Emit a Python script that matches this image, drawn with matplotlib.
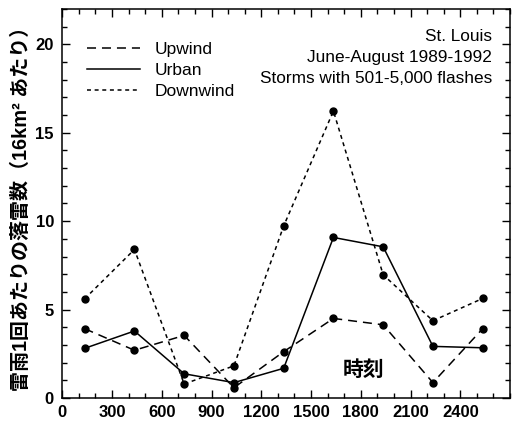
import matplotlib
matplotlib.use('Agg')
import matplotlib.pyplot as plt
from matplotlib.ticker import MultipleLocator

plt.rcParams['font.family'] = ['Liberation Sans', 'Noto Sans CJK JP', 'DejaVu Sans']

# data
hours = [135, 435, 735, 1035, 1335, 1635, 1935, 2235, 2535]
upwind = [3.92, 2.70, 3.54, 0.58, 2.62, 4.50, 4.14, 0.87, 3.92]
urban = [2.81, 3.79, 1.37, 0.87, 1.68, 9.08, 8.55, 2.92, 2.84]
downwind = [5.61, 8.40, 0.79, 1.82, 9.73, 16.23, 6.97, 4.37, 5.63]

x_ticks = [0, 300, 600, 900, 1200, 1500, 1800, 2100, 2400]
y_ticks = [0, 5, 10, 15, 20]
notes = ['St. Louis', 'June-August 1989-1992', 'Storms with 501-5,000 flashes']

fig = plt.figure(figsize=(5.17, 4.24), dpi=100)
ax = fig.add_axes([0.1205, 0.0613, 0.866, 0.9175])

long_dash = (5.9, 3.9)
short_dash = (2.6, 2.4)
mk = dict(marker='o', markersize=5, color='black', lw=1.1)
ax.plot(hours, upwind, dashes=long_dash, **mk)
ax.plot(hours, urban, ls='-', **mk)
ax.plot(hours, downwind, dashes=short_dash, **mk)

# legend (no markers)
h1, = ax.plot([], [], color='black', lw=1.1, dashes=long_dash)
h2, = ax.plot([], [], color='black', lw=1.1, ls='-')
h3, = ax.plot([], [], color='black', lw=1.1, dashes=short_dash)
ax.legend([h1, h2, h3], ['Upwind', 'Urban', 'Downwind'], loc='upper left',
          bbox_to_anchor=(0.055, 0.915), frameon=False, fontsize=12.5,
          handlelength=3.05, handletextpad=0.85, labelspacing=0.34, borderpad=0,
          borderaxespad=0)

note_y = [0.928, 0.875, 0.822]
for t, yy in zip(notes, note_y):
    ax.text(0.960, yy, t, transform=ax.transAxes,
            ha='right', va='center', fontsize=12.4)

ax.text(1815, 1.6, '時刻', ha='center', va='center', fontsize=15,
        fontweight='bold', family=['Noto Sans CJK JP'])

ax.set_xlim(0, 2700)
ax.set_ylim(0, 22)
ax.set_xticks(x_ticks)
ax.set_yticks(y_ticks)
ax.xaxis.set_minor_locator(MultipleLocator(100))
ax.yaxis.set_minor_locator(MultipleLocator(1))
ax.tick_params(which='both', direction='in', top=True, right=True, width=1)
ax.tick_params(which='major', length=6, labelsize=12)
ax.tick_params(which='minor', length=3.5)
ax.tick_params(axis='x', pad=5)
ax.tick_params(axis='y', pad=6)
for lab in ax.get_xticklabels() + ax.get_yticklabels():
    lab.set_fontweight('bold')
for s in ax.spines.values():
    s.set_linewidth(1.1)

ax.set_ylabel('雷雨1回あたりの落雷数（16km² あたり）', fontsize=14.4,
              fontweight='bold', labelpad=3)

fig.savefig('out.png', dpi=100)
